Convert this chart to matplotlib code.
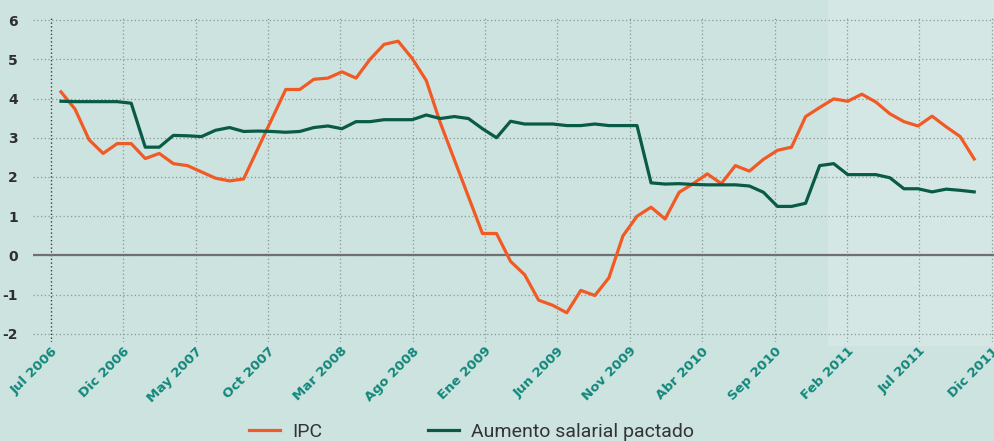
import numpy as np
import matplotlib.pyplot as plt
from matplotlib.patches import Rectangle

# tick labels (every 5 months)
etiquetas = ["Jul 2006", "Dic 2006", "May 2007", "Oct 2007", "Mar 2008", "Ago 2008",
             "Ene 2009", "Jun 2009", "Nov 2009", "Abr 2010", "Sep 2010", "Feb 2011",
             "Jul 2011", "Dic 2011"]

# monthly series, Jul 2006 .. Dic 2011
ipc = [4.17, 3.73, 2.95, 2.60, 2.85, 2.85, 2.47, 2.60, 2.34, 2.29,
       2.13, 1.97, 1.90, 1.95, 2.71, 3.47, 4.23, 4.23, 4.49, 4.52,
       4.68, 4.52, 5.00, 5.38, 5.46, 5.02, 4.46, 3.38, 2.44, 1.50,
       0.56, 0.56, -0.15, -0.49, -1.14, -1.27, -1.46, -0.89, -1.02, -0.57,
       0.50, 1.00, 1.23, 0.93, 1.61, 1.83, 2.08, 1.83, 2.29, 2.15,
       2.45, 2.68, 2.76, 3.54, 3.77, 3.99, 3.93, 4.11, 3.91, 3.61,
       3.41, 3.30, 3.55, 3.28, 3.03, 2.46]

salario = [3.93, 3.92, 3.92, 3.92, 3.92, 3.88, 2.76, 2.76, 3.06, 3.05,
           3.03, 3.19, 3.26, 3.16, 3.17, 3.16, 3.14, 3.16, 3.26, 3.30,
           3.23, 3.41, 3.41, 3.46, 3.46, 3.46, 3.58, 3.49, 3.54, 3.49,
           3.23, 3.00, 3.42, 3.35, 3.35, 3.35, 3.31, 3.31, 3.35, 3.31,
           3.31, 3.31, 1.85, 1.82, 1.83, 1.81, 1.80, 1.80, 1.80, 1.77,
           1.61, 1.25, 1.25, 1.33, 2.29, 2.34, 2.06, 2.06, 2.06, 1.98,
           1.70, 1.70, 1.62, 1.69, 1.66, 1.62]

bg = '#cde3e0'
naranja = '#f15a24'
verde = '#0a5a48'
teal = '#12877a'

x = np.arange(len(ipc))
tick_pos = np.arange(len(etiquetas)) * 5.15 - 0.71

fig = plt.figure(figsize=(9.95, 4.41), dpi=100, facecolor=bg)
# lighter panel on the right
fig.patches.append(Rectangle((828/995, 1-345/441), 1-828/995, 345/441,
                             transform=fig.transFigure, color='#d5e7e4', zorder=-5))

ax = fig.add_axes([33/995, 1-341.8/441, 962/995, 325.7/441])
ax.set_facecolor('none')
for s in ax.spines.values():
    s.set_visible(False)

ax.set_xlim(-1.99, 66.48)
ax.set_ylim(-2.2, 6.1)

ax.grid(True, linestyle=(0, (1, 2)), color='#8a9896', lw=0.9)
ax.axvline(tick_pos[0], linestyle=(0, (1, 2)), color='#3a3a3a', lw=0.9)
ax.axhline(0, color='#707070', lw=1.6)

l1, = ax.plot(x, ipc, color=naranja, lw=2.3, label='IPC')
l2, = ax.plot(x, salario, color=verde, lw=2.3, label='Aumento salarial pactado')

ax.set_yticks(range(-2, 7))
ax.set_yticklabels([str(v) for v in range(-2, 7)], fontsize=10, fontweight='bold', color='#2e2e2e')
ax.set_xticks(tick_pos)
ax.set_xticklabels(etiquetas, rotation=45, ha='right', rotation_mode='anchor',
                   fontsize=9.5, fontweight='bold', color=teal)
ax.tick_params(axis='y', length=0, pad=11)
ax.tick_params(axis='x', length=0, pad=2)

leg = fig.legend(handles=[l1, l2], loc='center', bbox_to_anchor=(0.474, 0.02), ncol=2,
                 frameon=False, handlelength=1.6, handletextpad=0.65, columnspacing=5.4,
                 prop={'family': ['Roboto', 'DejaVu Sans'], 'size': 14})
for t in leg.get_texts():
    t.set_color('#333333')

fig.savefig('out.png', dpi=100, facecolor=bg)
